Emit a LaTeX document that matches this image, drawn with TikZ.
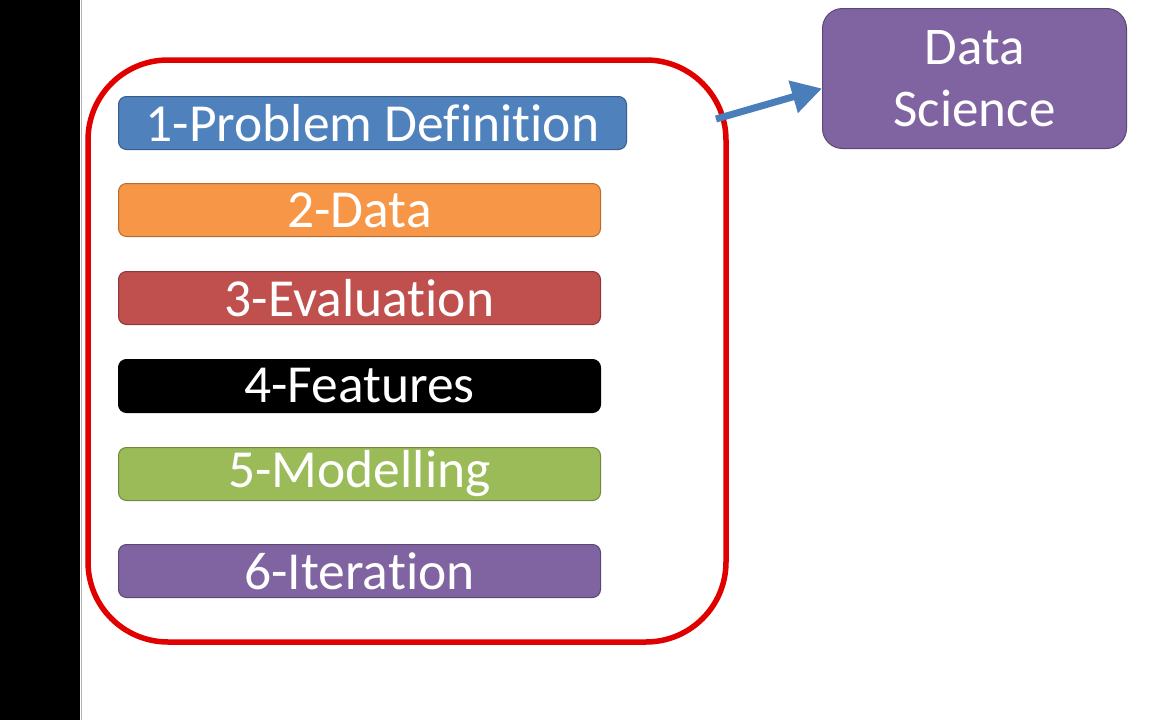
\documentclass[tikz,border=0pt]{standalone}
\usepackage{fontspec}
\setmainfont[Ligatures=NoCommon]{Carlito}
\usetikzlibrary{arrows.meta,calc}
\definecolor{cblue}{HTML}{4F81BD}
\definecolor{cblueb}{HTML}{385D8A}
\definecolor{corange}{HTML}{F79646}
\definecolor{corangeb}{HTML}{B66D31}
\definecolor{cred}{HTML}{C0504D}
\definecolor{credb}{HTML}{8C3836}
\definecolor{cgreen}{HTML}{9BBB59}
\definecolor{cgreenb}{HTML}{71893F}
\definecolor{cpurple}{HTML}{8064A2}
\definecolor{cpurpleb}{HTML}{5C4776}
\definecolor{frame}{HTML}{E00000}
\definecolor{arrowblue}{HTML}{4A7EBB}
\tikzset{
  stepbox/.style={rounded corners=8pt, line width=1pt, inner sep=0pt,
    minimum height=53pt, text=white, font=\fontsize{53.5}{53.5}\selectfont, anchor=north west},
}
\begin{document}
\begin{tikzpicture}[x=1pt,y=-1pt]
\useasboundingbox (0,0) rectangle (1152,720);
\fill[white] (0,0) rectangle (1152,720);
\fill[black] (0,0) rectangle (80,720);
\draw[gray!60, line width=1pt] (81,0) -- (81,720);
% frame
\draw[frame, line width=5.5pt, rounded corners=80pt] (88,60) rectangle (726,642);
% items
\node[stepbox, fill=cblue, draw=cblueb, minimum width=508pt] (s1) at (118,96) {1-Problem Definition};
\node[stepbox, fill=corange, draw=corangeb, minimum width=482pt] (s2) at (118,183) {2-Data};
\node[stepbox, fill=cred, draw=credb, minimum width=482pt] (s3) at (118,271) {3-Evaluation};
\node[stepbox, fill=black, draw=black, minimum width=482pt] (s4) at (118,359) {4-Features};
\node[stepbox, fill=cgreen, draw=cgreenb, minimum width=482pt] (s5) at (118,447) {5-Modelling};
\node[stepbox, fill=cpurple, draw=cpurpleb, minimum width=482pt] (s6) at (118,544) {6-Iteration};
% data science
\node[rounded corners=20pt, fill=cpurple, draw=cpurpleb, line width=1pt, inner sep=0pt,
  minimum width=304pt, minimum height=140pt, anchor=north west, text=white,
  align=center, font=\fontsize{53}{62}\selectfont] (ds) at (822,8) {Data\\Science};
\coordinate (as) at (716,119);
\draw[arrowblue, line width=7pt, -{Triangle[length=30pt,width=32pt]}] (as) -- ($(ds.west)+(0,10)$);
\end{tikzpicture}
\end{document}
